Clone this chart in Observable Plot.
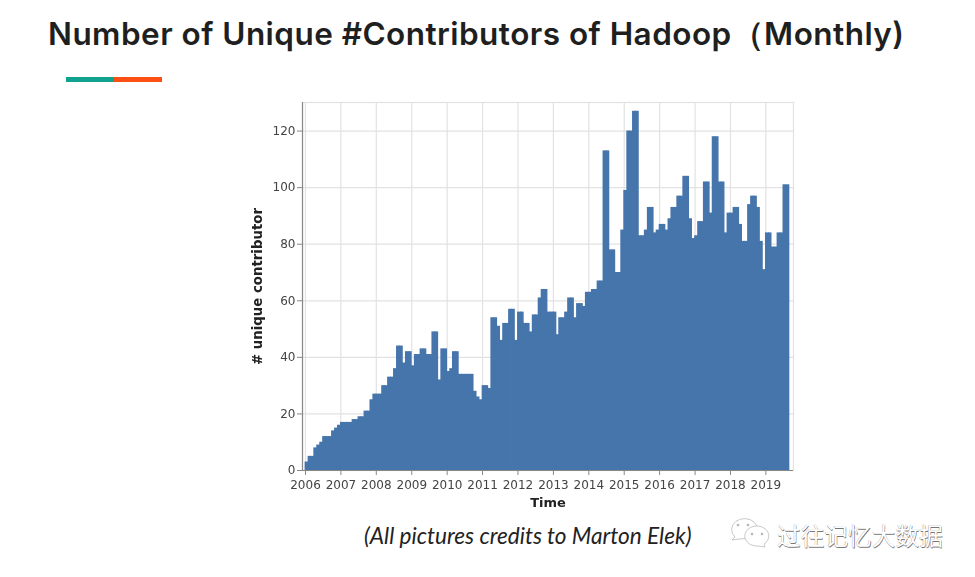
<!DOCTYPE html>
<html>
<head>
<meta charset="utf-8">
<script src="https://cdn.jsdelivr.net/npm/d3@7"></script>
<script src="https://cdn.jsdelivr.net/npm/@observablehq/plot@0.6"></script>
<style>
  html, body { margin: 0; padding: 0; background: #fff; }
  #page { position: relative; width: 975px; height: 577px; overflow: hidden; }
  #title { position: absolute; left: 48px; top: 14px; font: 600 31.5px Inter, sans-serif; letter-spacing: 0.46px; color: #1f1f1f; white-space: nowrap; }
  .accent { position: absolute; top: 77px; height: 5px; width: 48px; }
  #chart { position: absolute; left: 0; top: 100px; }
  #chart svg { filter: blur(0.45px); }
  #caption { position: absolute; left: 364px; top: 522px; font: italic 22.6px Lato, sans-serif; color: #222; white-space: nowrap; }
  #mark { position: absolute; left: 777px; top: 518px; font: 23.7px "Noto Sans CJK SC", sans-serif; color: #fff; white-space: nowrap; text-shadow: 0.6px 0.6px 0.6px #777, -0.3px -0.3px 0.4px #999; }
  #icon { position: absolute; left: 729px; top: 516px; }
</style>
</head>
<body>
<div id="page">
  <div id="title"></div>
  <div class="accent" style="left:66px;background:#10a28e"></div>
  <div class="accent" style="left:114px;background:#fb4f14"></div>
  <div id="chart"></div>
  <div id="caption"></div>
  <svg id="icon" width="46" height="36" viewBox="0 0 46 36" fill="#fff" stroke="#bbb" stroke-width="0.8">
    <path d="M3 24 L6 21 A13 11 0 1 1 24 22 L10 23 Z"/>
    <path d="M36 31 L35 28 A12 10 0 1 0 28 30 Q32 30 36 31 Z"/>
    <circle cx="9" cy="9" r="1" fill="#999"/><circle cx="19" cy="9" r="1" fill="#999"/>
    <circle cx="23" cy="18" r="1" fill="#999"/><circle cx="33" cy="18" r="1" fill="#999"/>
  </svg>
  <div id="mark"></div>
</div>
<script>
const titleText = "Number of Unique #Contributors of Hadoop（Monthly)";
const captionText = "(All pictures credits to Marton Elek)";
const watermarkText = "过往记忆大数据";
const xLabel = "Time";
const yLabel = "# unique contributor";
const yTicks = [0, 20, 40, 60, 80, 100, 120];
const yearTicks = [2006, 2007, 2008, 2009, 2010, 2011, 2012, 2013, 2014, 2015, 2016, 2017, 2018, 2019];

const y2006 = [3, 5, 5, 8, 9, 10, 12, 12, 12, 14, 15, 16];
const y2007 = [17, 17, 17, 17, 18, 18, 19, 19, 21, 21, 25, 27];
const y2008 = [27, 27, 30, 30, 33, 33, 36, 44, 44, 38, 42, 42];
const y2009 = [37, 41, 41, 43, 43, 41, 41, 49, 49, 32, 43, 43];
const y2010 = [35, 36, 42, 42, 34, 34, 34, 34, 34, 28, 26, 25];
const y2011 = [30, 30, 29, 54, 54, 51, 46, 52, 52, 57, 57, 46];
const y2012 = [56, 56, 52, 52, 49, 55, 55, 61, 64, 64, 56, 56];
const y2013 = [56, 48, 54, 54, 56, 61, 61, 54, 59, 59, 58, 63];
const y2014 = [63, 64, 64, 67, 67, 113, 113, 78, 78, 70, 70, 85];
const y2015 = [99, 120, 120, 127, 127, 83, 83, 85, 93, 93, 84, 85];
const y2016 = [87, 87, 85, 89, 93, 93, 97, 97, 104, 104, 89, 82];
const y2017 = [83, 88, 88, 102, 102, 91, 118, 118, 102, 102, 84, 91];
const y2018 = [91, 93, 93, 87, 81, 81, 94, 97, 97, 93, 81, 71];
const y2019 = [84, 84, 79, 79, 84, 84, 101, 101];
const byYear = [y2006, y2007, y2008, y2009, y2010, y2011, y2012, y2013, y2014, y2015, y2016, y2017, y2018, y2019];

const rows = byYear.flatMap((vals, i) => vals.map((value, m) => ({
  start: new Date(Date.UTC(yearTicks[i], m, 1)),
  end: new Date(Date.UTC(yearTicks[i], m + 1, 1)),
  value
})));

document.getElementById("title").textContent = titleText;
document.getElementById("caption").textContent = captionText;
document.getElementById("mark").textContent = watermarkText;

const yearDates = yearTicks.map(y => new Date(Date.UTC(y, 0, 1)));
const tickFont = { fontFamily: "'DejaVu Sans', sans-serif", fontSize: 12 };
const xStart = new Date(Date.UTC(2005, 11, 1));
const xEnd = new Date(Date.UTC(2019, 9, 13));

const chart = Plot.plot({
  width: 975,
  height: 415,
  marginLeft: 302,
  marginRight: 182,
  marginTop: 2,
  marginBottom: 45,
  style: { background: "transparent", overflow: "visible" },
  x: { type: "utc", domain: [xStart, xEnd] },
  y: { domain: [0, 130.1] },
  marks: [
    Plot.ruleX(yearDates, { stroke: "#e2e2e2", strokeWidth: 1.2 }),
    Plot.ruleY(yTicks, { stroke: "#e2e2e2", strokeWidth: 1.2 }),
    Plot.frame({ stroke: "#e2e2e2", strokeWidth: 1.2 }),
    Plot.rectY(rows, { x1: "start", x2: "end", y: "value", fill: "#4575ab", insetLeft: -0.4, insetRight: -0.4 }),
    Plot.ruleX([xStart], { stroke: "#888", strokeWidth: 1.2 }),
    Plot.ruleY([0], { stroke: "#888", strokeWidth: 1.2 }),
    Plot.axisX({ ticks: yearDates, tickFormat: d3.utcFormat("%Y"), tickSize: 5, tickPadding: 5, label: null, stroke: "#888", color: "#444", ...tickFont }),
    Plot.axisY({ ticks: yTicks, tickSize: 5, tickPadding: 2, label: null, stroke: "#888", color: "#444", ...tickFont }),
    Plot.text([xLabel], { frameAnchor: "bottom", dy: 36, fontWeight: "bold", fontSize: 13, fontFamily: "'DejaVu Sans', sans-serif", fill: "#222" }),
    Plot.text([yLabel], { frameAnchor: "left", textAnchor: "middle", dx: -45, rotate: -90, fontWeight: "bold", fontSize: 13.3, fontFamily: "'DejaVu Sans', sans-serif", fill: "#222" })
  ]
});
document.getElementById("chart").appendChild(chart);
</script>
</body>
</html>
